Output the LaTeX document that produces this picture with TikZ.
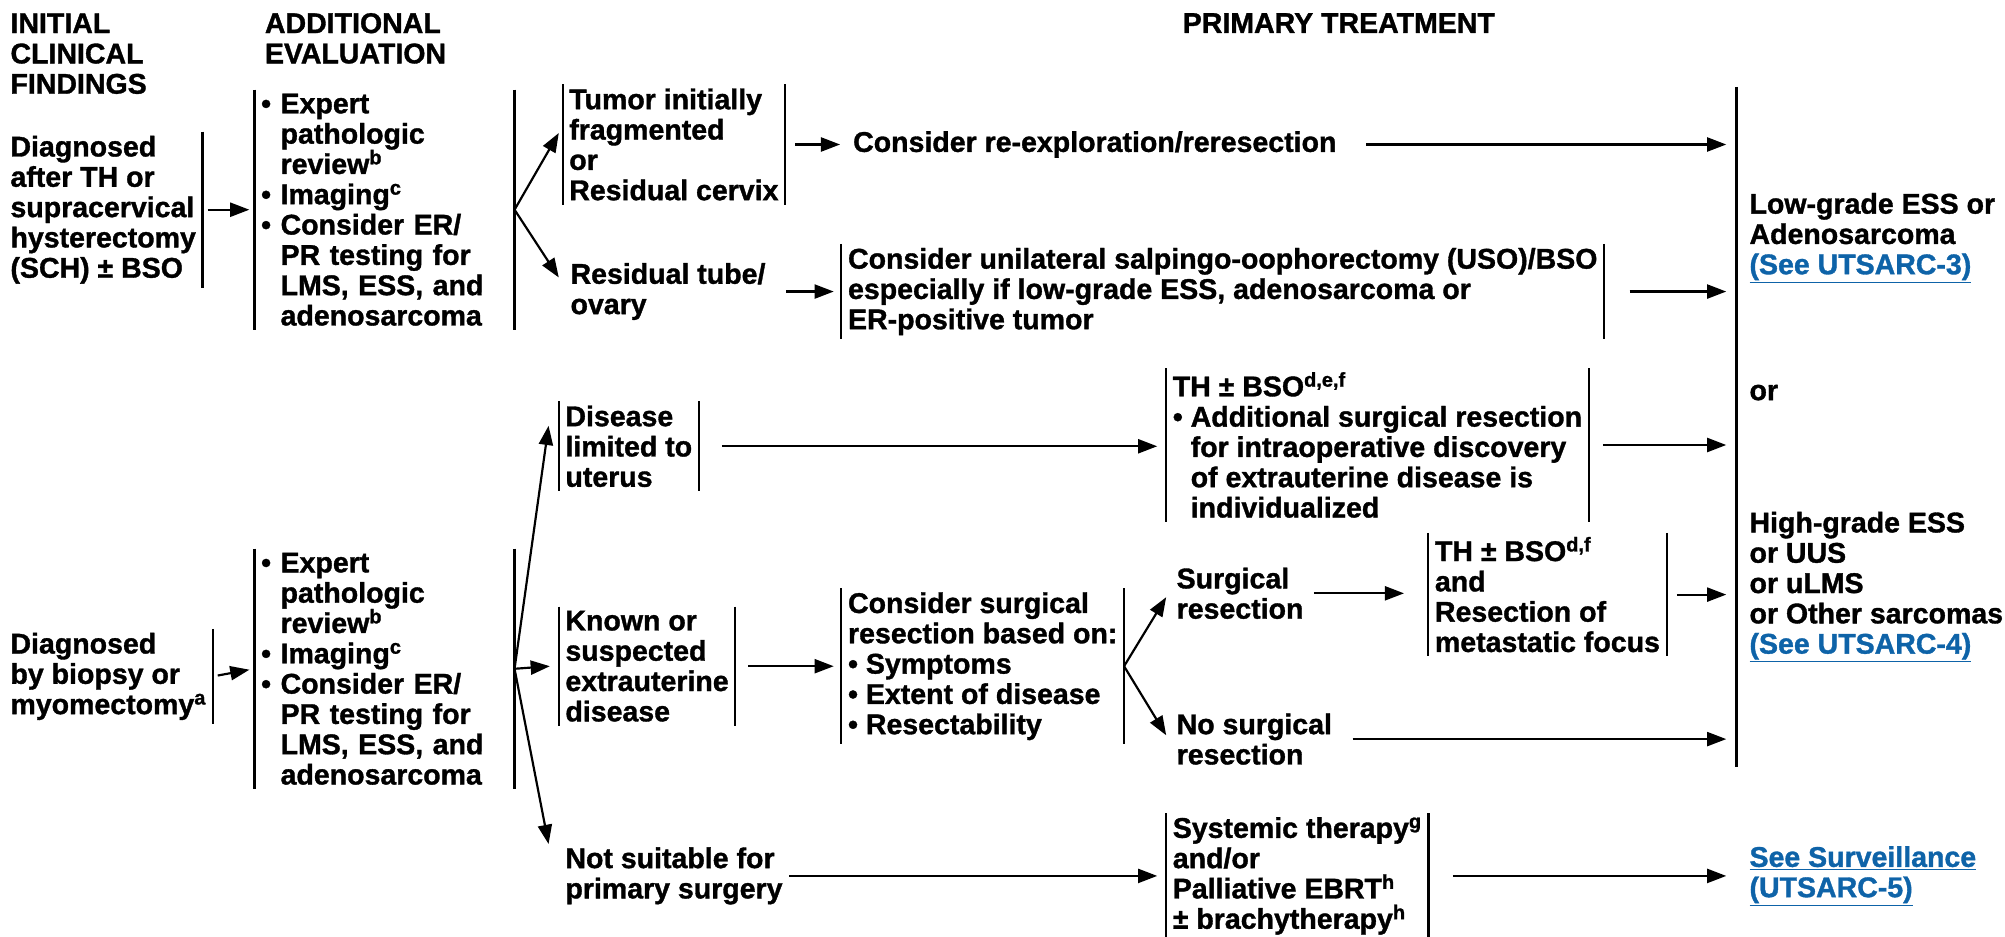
\documentclass[tikz,border=0pt]{standalone}
\usepackage{fontspec}
\setmainfont{Liberation Sans}[BoldFeatures={FakeBold=1.2}]
\usepackage{tikz}
\usetikzlibrary{arrows.meta, calc}

\definecolor{linkblue}{RGB}{14,99,168}
\tikzset{
    txt/.style={anchor=west, align=left, inner xsep=5pt, inner ysep=3pt,
        font=\bfseries\fontsize{22.3}{23.7}\selectfont},
    arr/.style={line width=1.7pt, -{Triangle[length=15pt,width=11pt]}},
    bar/.style={line width=1.7pt}
}
\newcommand{\bul}{\textbullet\ }
\newcommand{\ind}{\hphantom{\textbullet\ }}
\newcommand{\lnk}[1]{\textcolor{linkblue}{\underline{#1}}}
\newcommand{\bothbars}[1]{\draw[bar] (#1.north west) -- (#1.south west);
    \draw[bar] (#1.north east) -- (#1.south east);}

\begin{document}
\begin{tikzpicture}[x=1pt, y=-1pt]
        \useasboundingbox (0,0) rectangle (1568,732);

        % headings
        \node[txt] (hinit) at (3,42) {INITIAL\\CLINICAL\\FINDINGS};
        \node[txt] (heval) at (202,30) {ADDITIONAL\\EVALUATION};
        \node[txt, anchor=center] (hprim) at (1047,18) {PRIMARY TREATMENT};

        % after TH or SCH
        \node[txt] (dxa) at (3,164) {Diagnosed\\after TH or\\supracervical\\hysterectomy\\(SCH) ± BSO};
        \node[txt, text width=193pt] (evala) at (199,164) {\bul Expert\\\ind pathologic\\\ind review\textsuperscript{b}\\\bul Imaging\textsuperscript{c}\\\bul Consider ER/\\\ind PR testing for\\\ind LMS, ESS, and\\\ind adenosarcoma};
        \node[txt] (frag) at (440,113) {Tumor initially\\fragmented\\or\\Residual cervix};
        \node[txt] (rexp) at (662,113) {Consider re-exploration/reresection};
        \node[txt] (tube) at (441,228) {Residual tube/\\ovary};
        \node[txt] (uso) at (658,228) {Consider unilateral salpingo-oophorectomy (USO)/BSO\\especially if low-grade ESS, adenosarcoma or\\ER-positive tumor};

        \draw[bar] (dxa.north east) -- (dxa.south east);
        \bothbars{evala}
        \bothbars{frag}
        \bothbars{uso}

        \coordinate (forka) at (evala.east);
        \draw[arr, shorten <=4pt, shorten >=4pt] (dxa.east) -- (evala.west);
        \draw[arr] (forka) -- ([shift={(-3,-9)}]frag.west);
        \draw[arr] (forka) -- ([shift={(-4,-11)}]tube.west);
        \draw[arr, shorten <=8pt, shorten >=5pt] (frag.east) -- (rexp.west);
        \draw[arr, shorten <=11pt, shorten >=6pt] (tube.east) -- (uso.west);

        % by biopsy or myomectomy
        \node[txt] (dxb) at (3,529) {Diagnosed\\by biopsy or\\myomectomy\textsuperscript{a}};
        \node[txt, text width=193pt] (evalb) at (199,523) {\bul Expert\\\ind pathologic\\\ind review\textsuperscript{b}\\\bul Imaging\textsuperscript{c}\\\bul Consider ER/\\\ind PR testing for\\\ind LMS, ESS, and\\\ind adenosarcoma};
        \node[txt] (uter) at (437,349) {Disease\\limited to\\uterus};
        \node[txt] (extra) at (437,521) {Known or\\suspected\\extrauterine\\disease};
        \node[txt] (nosuit) at (437,685) {Not suitable for\\primary surgery};
        \node[txt] (thbso) at (912,348) {TH ± BSO\textsuperscript{d,e,f}\\\bul Additional surgical resection\\\ind for intraoperative discovery\\\ind of extrauterine disease is\\\ind individualized};
        \node[txt] (based) at (658,521) {Consider surgical\\resection based on:\\\bul Symptoms\\\bul Extent of disease\\\bul Resectability};
        \node[txt] (surg) at (915,464) {Surgical\\resection};
        \node[txt] (nosurg) at (915,578) {No surgical\\resection};
        \node[txt] (meta) at (1117,465) {TH ± BSO\textsuperscript{d,f}\\and\\Resection of\\metastatic focus};
        \node[txt] (syst) at (912,685) {Systemic therapy\textsuperscript{g}\\and/or\\Palliative EBRT\textsuperscript{h}\\± brachytherapy\textsuperscript{h}};

        \draw[bar] (dxb.north east) -- (dxb.south east);
        \bothbars{evalb}
        \bothbars{uter}
        \bothbars{extra}
        \bothbars{thbso}
        \bothbars{based}
        \bothbars{meta}
        \bothbars{syst}

        \coordinate (forkb) at (evalb.east);
        \coordinate (forkc) at (based.east);
        \draw[arr, shorten <=4pt, shorten >=4pt] (dxb.east) -- (evalb.west);
        \draw[arr] (forkb) -- ([shift={(-8,-16)}]uter.west);
        \draw[arr] (forkb) -- ([shift={(-7,0)}]extra.west);
        \draw[arr] (forkb) -- ([shift={(-8,-25)}]nosuit.west);
        \draw[arr, shorten <=18pt, shorten >=7pt] (uter.east) -- (thbso.west |- uter.east);
        \draw[arr, shorten <=10pt, shorten >=6pt] (extra.east) -- (based.west);
        \draw[arr] (forkc) -- ([shift={(-3,3)}]surg.west);
        \draw[arr] (forkc) -- ([shift={(-3,-3)}]nosurg.west);
        \draw[arr, shorten <=3pt, shorten >=19pt] (surg.east) -- (meta.west |- surg.east);
        \draw[arr, shorten <=0pt, shorten >=7pt] (nosuit.east) -- (syst.west);

        % outcomes
        \coordinate (mtop) at (1358,68);
        \coordinate (mbot) at (1358,600);
        \draw[bar, line width=2.1pt] (mtop) -- (mbot);
        \node[txt] (low) at (1363,186) {Low-grade ESS or\\Adenosarcoma\\\lnk{(See UTSARC-3)}};
        \node[txt] (orr) at (1363,307) {or};
        \node[txt] (high) at (1363,459) {High-grade ESS\\or UUS\\or uLMS\\or Other sarcomas\\\lnk{(See UTSARC-4)}};
        \node[txt] (surv) at (1363,685) {\lnk{See Surveillance}\\\lnk{(UTSARC-5)}};

        \draw[arr, shorten <=18pt, shorten >=8pt] (rexp.east) -- (rexp.east -| mtop);
        \draw[arr, shorten <=20pt, shorten >=8pt] (uso.east) -- (uso.east -| mtop);
        \draw[arr, shorten <=11pt, shorten >=8pt] (thbso.east) -- (thbso.east -| mtop);
        \draw[arr, shorten <=8pt, shorten >=8pt] (meta.east) -- (meta.east -| mtop);
        \draw[arr, shorten <=11pt, shorten >=8pt] (nosurg.east) -- (nosurg.east -| mtop);
        \draw[arr, shorten <=19pt, shorten >=13pt] (syst.east) -- (surv.west);

\end{tikzpicture}
\end{document}
